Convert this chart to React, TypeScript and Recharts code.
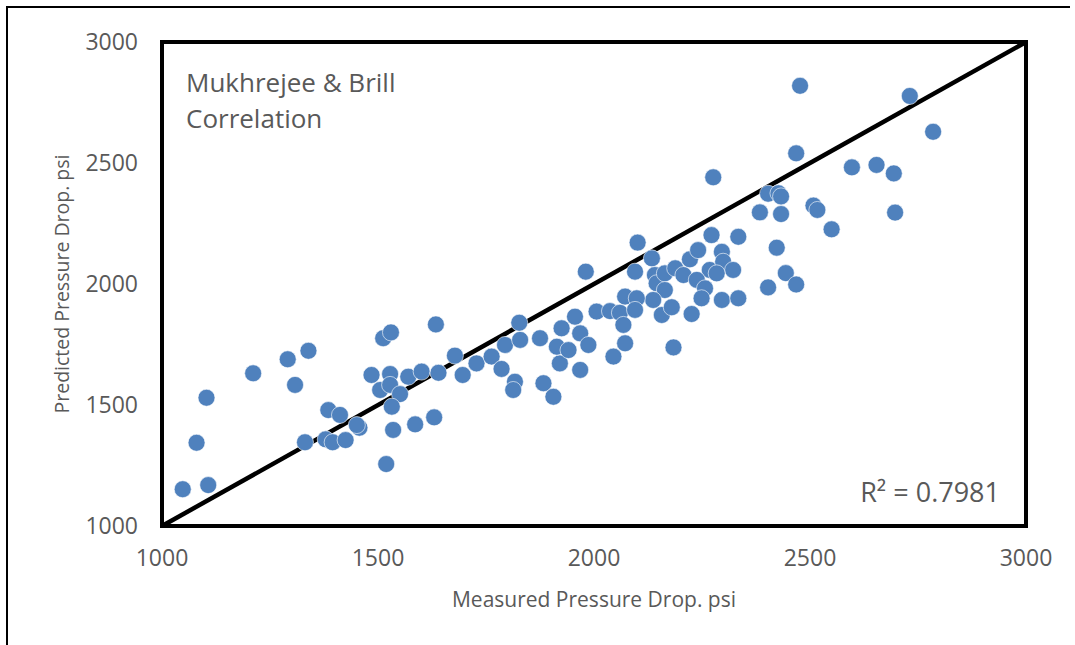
import React from "react";
import {
  ScatterChart,
  Scatter,
  XAxis,
  YAxis,
  ReferenceArea,
  ReferenceLine,
  Label,
} from "recharts";

const measured = [
  1048, 1107, 1080, 1103, 1211, 1291, 1308, 1339, 1331, 1385,
  1412, 1379, 1395, 1425, 1457, 1451, 1519, 1535, 1586, 1630,
  1485, 1528, 1512, 1530, 1634, 1505, 1528, 1551, 1532, 1570,
  1601, 1640, 1678, 1696, 1728, 1763, 1786, 1794, 1829, 1827,
  1817, 1813, 1875, 1883, 1906, 1921, 1925, 1914, 1941, 1956,
  1968, 1987, 1968, 2006, 2037, 2060, 2068, 2072, 2045, 1981,
  2101, 2095, 2134, 2141, 2145, 2164, 2188, 2207, 2164, 2137,
  2072, 2099, 2095, 2157, 2180, 2226, 2184, 2222, 2241, 2272,
  2334, 2296, 2268, 2299, 2322, 2238, 2257, 2249, 2296, 2334,
  2284, 2276, 2384, 2403, 2427, 2433, 2433, 2423, 2508, 2517,
  2550, 2444, 2468, 2403, 2597, 2654, 2694, 2697, 2785, 2731,
  2477, 2468,
];

const predicted = [
  1152, 1169, 1344, 1530, 1631, 1689, 1583, 1724, 1346, 1479,
  1459, 1358, 1346, 1355, 1406, 1417, 1256, 1397, 1420, 1449,
  1624, 1628, 1776, 1800, 1833, 1562, 1583, 1545, 1493, 1617,
  1638, 1633, 1704, 1624, 1672, 1700, 1649, 1748, 1769, 1840,
  1596, 1562, 1776, 1590, 1534, 1672, 1817, 1741, 1727, 1865,
  1796, 1748, 1645, 1886, 1888, 1881, 1831, 1755, 1700, 2051,
  2171, 2051, 2106, 2037, 2003, 2044, 2065, 2037, 1975, 1934,
  1948, 1941, 1893, 1872, 1904, 1876, 1738, 2102, 2140, 2202,
  2195, 2133, 2058, 2092, 2058, 2017, 1982, 1941, 1934, 1941,
  2044, 2441, 2296, 2373, 2375, 2362, 2289, 2150, 2324, 2306,
  2226, 2045, 1998, 1986, 2482, 2492, 2457, 2295, 2629, 2777,
  2819, 2540,
];

const axisTicks = [1000, 1500, 2000, 2500, 3000];
const axisDomain = [1000, 3000];
const titleLines = ["Mukhrejee & Brill", "Correlation"];
const rSquaredText = "R\u00B2 = 0.7981";
const xTitle = "Measured Pressure Drop. psi";
const yTitle = "Predicted Pressure Drop. psi";

const data = measured.map((m, i) => ({ x: m, y: predicted[i] }));

const TEXT_GRAY = "#595959";
const FONT = "'Open Sans', 'Noto Sans', sans-serif";

const Dot = (props: any) => (
  <circle cx={props.cx} cy={props.cy} r={8.5} fill="#4F81BD" stroke="#ffffff" strokeWidth={0.6} />
);

export default function App() {
  return (
    <div
      style={{
        position: "absolute",
        left: 0,
        top: 0,
        width: 1075,
        height: 645,
        background: "#ffffff",
        fontFamily: FONT,
        overflow: "hidden",
      }}
    >
      <div
        style={{
          position: "absolute",
          left: 6,
          top: 6,
          width: 1064,
          height: 660,
          borderTop: "2px solid #000",
          borderLeft: "2px solid #000",
          boxSizing: "border-box",
        }}
      />
      <ScatterChart
        width={1075}
        height={645}
        margin={{ top: 42, right: 49, bottom: 0, left: 0 }}
        style={{ position: "absolute", left: 0, top: 0 }}
      >
        <XAxis
          type="number"
          dataKey="x"
          domain={axisDomain}
          ticks={axisTicks}
          allowDataOverflow
          axisLine={false}
          tickLine={false}
          tickSize={16}
          tickMargin={8}
          height={119}
          tick={{ fill: TEXT_GRAY, fontSize: 23, fontFamily: FONT }}
        >
          <Label
            value={xTitle}
            position="insideBottom"
            offset={38}
            fill={TEXT_GRAY}
            fontSize={21}
            fontFamily={FONT}
          />
        </XAxis>
        <YAxis
          type="number"
          dataKey="y"
          domain={axisDomain}
          ticks={axisTicks}
          allowDataOverflow
          axisLine={false}
          tickLine={false}
          tickSize={14}
          tickMargin={10}
          width={162}
          tick={{ fill: TEXT_GRAY, fontSize: 23, fontFamily: FONT }}
        >
          <Label
            value={yTitle}
            angle={-90}
            position="insideLeft"
            offset={62}
            fill={TEXT_GRAY}
            fontSize={19.5}
            fontFamily={FONT}
            style={{ textAnchor: "middle" }}
          />
        </YAxis>
        <ReferenceArea
          x1={1000}
          x2={3000}
          y1={1000}
          y2={3000}
          fill="none"
          fillOpacity={0}
          stroke="#000"
          strokeWidth={4}
          ifOverflow="visible"
        />
        <Scatter data={data} shape={Dot} isAnimationActive={false} />
        <ReferenceLine
          segment={[
            { x: 1000, y: 1000 },
            { x: 3000, y: 3000 },
          ]}
          stroke="#000"
          strokeWidth={4.5}
          ifOverflow="visible"
        />
      </ScatterChart>
      <div
        style={{
          position: "absolute",
          left: 186,
          top: 64,
          color: TEXT_GRAY,
          fontSize: 26,
          lineHeight: "36px",
          whiteSpace: "nowrap",
        }}
      >
        {titleLines.map((t) => (
          <div key={t}>{t}</div>
        ))}
      </div>
      <div
        style={{
          position: "absolute",
          right: 75,
          top: 474,
          color: TEXT_GRAY,
          fontSize: 27,
          lineHeight: "36px",
          whiteSpace: "nowrap",
        }}
      >
        {rSquaredText}
      </div>
    </div>
  );
}
